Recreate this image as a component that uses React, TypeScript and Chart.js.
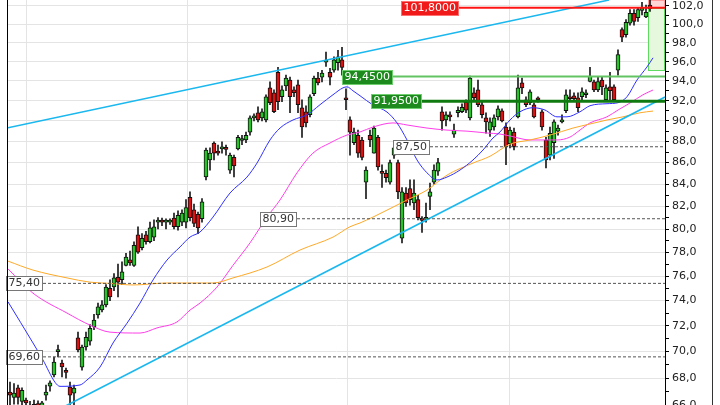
import React, { useEffect, useRef } from 'react';
import { Chart, registerables } from 'chart.js';

Chart.register(...registerables);

// ---------- DATA ----------
const openP = [
  66.98, 66.6, 67.3, 66.3, 66.4, 66.0, 65.9, 66.1, 65.9, 66.76,
  67.42, 68.24, 70.0, 69.13, 68.5, 67.35, 66.9, 71.05, 68.83, 70.35,
  70.8, 71.9, 72.85, 73.25, 73.65, 75.0, 75.1, 75.9, 75.7, 76.9,
  77.35, 76.9, 79.5, 78.4, 79.5, 78.9, 79.3, 80.6, 80.65, 80.6,
  80.6, 80.95, 80.2, 80.6, 80.6, 82.8, 81.7, 81.3, 80.9, 84.66,
  86.25, 87.86, 86.95, 87.3, 87.3, 85.3, 86.5, 87.3, 88.1, 88.15,
  88.9, 90.3, 90.8, 90.3, 90.1, 93.3, 92.8, 94.9, 92.4, 93.5,
  94.1, 93.1, 93.6, 91.3, 90.9, 90.6, 92.7, 94.3, 94.4, 95.95,
  94.9, 95.1, 95.9, 96.2, 92.2, 90.1, 87.9, 88.6, 88.15, 84.2,
  88.6, 86.9, 88.4, 85.05, 85.0, 84.2, 86.7, 86.0, 79.2, 83.2,
  83.6, 82.3, 82.6, 80.8, 80.85, 82.9, 84.2, 85.2, 90.9, 90.1,
  90.5, 88.7, 90.8, 90.9, 91.85, 90.3, 92.8, 93.1, 91.6, 90.3,
  89.1, 89.4, 90.4, 91.0, 89.4, 87.8, 88.9, 90.4, 93.8, 92.1,
  91.8, 91.6, 92.3, 90.9, 88.15, 86.7, 87.9, 89.0, 89.9, 91.0,
  92.4, 92.5, 92.3, 92.4, 92.6, 93.95, 93.9, 93.1, 94.1, 92.1,
  93.4, 93.4, 95.1, 99.4, 98.85, 100.1, 101.2, 100.7, 101.5, 100.8,
  102.1,
];
const highP = [
  67.72, 67.6, 67.5, 67.3, 66.55, 66.3, 66.4, 66.35, 66.3, 67.5,
  67.8, 69.58, 70.5, 69.36, 68.76, 67.72, 67.5, 71.5, 70.5, 71.5,
  72.1, 72.9, 73.8, 74.0, 75.3, 75.7, 76.2, 77.0, 77.2, 77.9,
  78.1, 78.9, 80.2, 79.6, 79.8, 80.6, 80.8, 81.0, 80.95, 80.9,
  80.9, 81.4, 81.6, 81.7, 82.6, 83.3, 82.2, 81.5, 82.7, 87.38,
  87.4, 87.96, 87.67, 87.96, 87.67, 86.9, 86.7, 88.6, 88.6, 88.9,
  90.5, 90.7, 91.4, 91.2, 92.6, 93.9, 93.1, 95.4, 93.5, 94.6,
  94.4, 93.4, 94.1, 92.1, 91.5, 92.6, 94.5, 94.9, 95.1, 97.0,
  95.3, 96.5, 97.2, 97.5, 93.2, 90.4, 89.3, 89.1, 88.4, 85.6,
  89.1, 89.5, 88.6, 85.8, 85.3, 86.25, 87.7, 86.25, 83.7, 83.7,
  84.4, 84.4, 83.0, 81.1, 82.3, 84.1, 85.8, 86.4, 91.4, 90.9,
  90.9, 89.7, 91.4, 91.7, 92.1, 94.5, 93.3, 94.1, 91.9, 90.8,
  90.3, 90.6, 91.5, 91.2, 89.8, 89.4, 89.3, 94.6, 94.3, 92.4,
  93.1, 91.8, 92.4, 91.1, 88.4, 89.4, 90.1, 89.6, 90.6, 93.1,
  93.1, 92.8, 92.8, 93.3, 93.1, 95.4, 94.1, 94.4, 94.4, 93.6,
  94.9, 93.6, 97.25, 99.6, 100.5, 101.6, 101.6, 101.8, 102.4, 102.1,
  102.67,
];
const lowP = [
  66.05, 66.1, 66.1, 66.0, 65.8, 65.5, 65.6, 65.7, 65.5, 66.4,
  67.05, 68.09, 69.6, 68.09, 68.0, 66.05, 66.05, 69.97, 68.6, 70.1,
  70.5, 71.7, 72.6, 73.1, 73.5, 74.0, 74.8, 74.3, 75.3, 76.85,
  76.9, 76.8, 77.9, 78.2, 78.7, 78.8, 79.0, 80.0, 80.3, 80.0,
  80.4, 80.0, 79.9, 80.3, 80.1, 80.7, 80.2, 79.6, 80.6, 84.39,
  85.3, 86.25, 86.7, 86.9, 86.7, 85.0, 84.66, 87.2, 87.7, 87.9,
  88.6, 90.0, 89.9, 90.0, 89.9, 91.6, 90.8, 91.1, 91.9, 93.0,
  90.8, 92.4, 90.8, 88.4, 89.4, 90.4, 92.5, 93.6, 93.9, 95.5,
  93.6, 94.9, 95.1, 94.6, 91.1, 86.7, 87.7, 86.5, 86.25, 82.7,
  87.5, 86.9, 85.3, 83.7, 84.2, 84.0, 86.4, 82.7, 78.8, 82.0,
  82.1, 81.7, 80.8, 79.7, 80.6, 81.7, 84.0, 84.8, 89.1, 89.5,
  90.0, 88.4, 90.4, 90.8, 90.8, 90.1, 92.0, 91.4, 90.3, 88.8,
  88.5, 89.1, 90.1, 89.9, 85.8, 87.4, 87.2, 90.3, 92.7, 91.4,
  91.6, 90.3, 91.85, 89.1, 85.5, 86.25, 86.4, 88.6, 89.8, 90.8,
  92.1, 91.9, 90.9, 92.1, 92.3, 93.9, 92.9, 92.9, 92.6, 91.9,
  92.1, 91.9, 94.6, 98.1, 98.6, 99.9, 99.9, 100.3, 101.0, 100.7,
  101.4,
];
const closeP = [
  66.76, 66.9, 66.6, 67.1, 66.2, 65.8, 66.1, 66.0, 66.2, 66.98,
  67.65, 69.21, 70.06, 68.84, 68.43, 66.76, 67.28, 70.12, 70.35, 71.1,
  71.8, 72.45, 73.5, 73.65, 75.1, 74.3, 75.85, 75.5, 76.35, 77.6,
  77.1, 78.6, 78.0, 79.2, 78.9, 80.1, 80.2, 80.65, 80.6, 80.65,
  80.7, 80.2, 81.2, 81.4, 81.9, 81.0, 80.5, 80.1, 82.4, 87.19,
  86.9, 86.9, 86.9, 87.38, 87.25, 86.7, 85.7, 88.4, 88.2, 88.6,
  90.3, 90.4, 90.1, 90.9, 92.4, 91.8, 90.9, 91.9, 93.1, 94.3,
  92.4, 92.8, 91.6, 89.4, 89.8, 92.4, 94.3, 93.8, 94.8, 96.0,
  94.4, 96.2, 96.5, 95.4, 92.1, 88.9, 88.9, 86.9, 86.5, 85.3,
  88.15, 89.3, 85.6, 85.0, 84.6, 86.0, 87.4, 83.3, 83.3, 82.3,
  82.6, 83.2, 81.0, 80.75, 80.95, 83.3, 85.3, 86.0, 90.0, 90.6,
  90.4, 89.1, 91.05, 91.35, 91.05, 94.3, 92.3, 91.6, 90.6, 89.9,
  89.9, 90.3, 91.2, 90.0, 87.5, 89.1, 87.5, 93.3, 93.3, 91.6,
  92.9, 90.4, 92.1, 89.4, 86.25, 88.8, 89.9, 89.3, 90.1, 92.6,
  92.2, 92.2, 91.3, 92.9, 92.8, 94.5, 93.1, 93.95, 93.4, 93.3,
  93.0, 92.1, 96.75, 98.6, 100.2, 101.2, 100.3, 101.6, 101.8, 101.3,
  101.7,
];

// moving averages read as [bar index, price]
const maBlue: [number, number][] = [
  [-0.5, 73.9], [5.75, 70.66], [8.25, 69.36], [11.25, 67.7], [12.5, 67.4], [17.5, 67.5],
  [19.25, 67.87], [22.5, 68.83], [25.75, 70.66], [29.25, 72.2], [32.5, 73.8], [35.75, 75.68],
  [39.25, 77.34], [42.5, 78.45], [45, 79.3], [47.5, 79.74], [50.75, 81.05], [55, 83.2],
  [59.25, 84.66], [61.75, 85.96], [65, 88.15], [67.5, 89.3], [70.75, 90.09], [74.25, 90.6],
  [77.5, 91.6], [80.75, 92.6], [83.25, 93.3], [84.25, 93.4], [85.75, 93.0], [87.5, 92.5],
  [90.75, 91.57], [94.25, 90.87], [96.75, 89.8], [99.25, 88.15], [101.75, 86.25], [104.25, 85.05],
  [106.75, 84.39], [109.25, 84.66], [112.5, 85.31], [115.75, 86.25], [118.25, 87.19], [120.75, 88.34],
  [122.5, 88.92], [125, 90.09], [127.5, 90.9], [130.75, 91.3], [133.75, 91.07], [136.75, 90.4],
  [139.25, 90.4], [142.5, 90.9], [145, 91.5], [149.25, 91.7], [152, 91.8], [154.25, 92.4],
  [156.75, 94.1], [159.25, 95.45], [160.75, 96.4],
];
const maMagenta: [number, number][] = [
  [-0.5, 76.6], [5.75, 74.6], [14.25, 73.0], [20, 72.05], [25, 71.5], [32.5, 71.43],
  [36.75, 71.83], [41.75, 72.3], [45, 73.24], [47.5, 73.8], [51.75, 75.1], [55.75, 76.9],
  [60, 78.8], [64.25, 81.05], [67.5, 82.57], [71.75, 85.05], [75.75, 86.9], [80, 87.86],
  [84.25, 88.62], [87.5, 88.92], [90.75, 89.4], [95.75, 89.8], [99.25, 89.6], [104.25, 89.3],
  [109.25, 89.1], [114.25, 89.0], [119.25, 88.82], [122.5, 88.72], [125, 88.53], [130, 88.15],
  [136.75, 88.15], [140, 88.43], [142.5, 89.11], [145, 89.8], [149.25, 90.4], [152, 91.07],
  [155, 91.77], [158.25, 92.6], [160.75, 93.08],
];
const maOrange: [number, number][] = [
  [-0.5, 77.25], [5.75, 76.5], [14.25, 75.85], [20, 75.5], [25, 75.4], [30.75, 75.27],
  [39.25, 75.43], [47.5, 75.43], [50.75, 75.43], [55.75, 75.85], [64.25, 76.76], [72.5, 78.19],
  [80.75, 79.3], [85, 80.2], [87.5, 80.53], [90.75, 81.05], [99.25, 82.57], [104.25, 83.47],
  [109.25, 84.84], [115.75, 85.96], [120, 86.6], [125, 87.75], [130, 88.15], [135, 88.62],
  [140.75, 89.3], [145, 89.7], [149.25, 90.09], [153.25, 90.4], [157.5, 90.8], [160.75, 90.97],
];
const trendUpper: [number, number][] = [[-0.5, 89.32], [149.75, 102.67]];
const trendLower: [number, number][] = [[10, 65.4], [163.75, 92.37]];

const levelValues = [101.8, 94.45, 91.95, 87.5, 80.9, 75.4, 69.6];
const levelLabels = ['101,8000', '94,4500', '91,9500', '87,50', '80,90', '75,40', '69,60'];
const targetRange = [95.0, 101.8];
const yTickValues = [
  66, 67, 68, 69, 70, 71, 72, 73, 74, 75, 76, 77, 78, 79, 80, 81, 82, 83, 84,
  85, 86, 87, 88, 89, 90, 91, 92, 93, 94, 95, 96, 97, 98, 99, 100, 101, 102,
];
const xGridIdx = [4, 44.25, 84.25, 124.75];

// ---------- STYLE / LAYOUT ----------
const X_MIN = -0.5;
const X_MAX = 163.75;
const Y_MIN = 64.27;
const Y_MAX = 102.668;
const BOX_FROM = 159.5;
const GREEN = '#27c427';
const RED = '#dd1111';
const FONT = '"DejaVu Sans", Verdana, sans-serif';

const levelStyle = [
  { from: 112.25, color: '#ff1414', width: 2, dash: [] as number[], box: '#f01a1a', border: '#ff7070', text: '#ffffff' },
  { from: 95.75, color: '#63c363', width: 2, dash: [] as number[], box: '#1d8a1d', border: '#6fcf6f', text: '#ffffff' },
  { from: 103, color: '#0f7a0f', width: 3, dash: [] as number[], box: '#1d8a1d', border: '#6fcf6f', text: '#ffffff' },
  { from: 105, color: '#555555', width: 1, dash: [3, 2], box: '#ffffff', border: '#777777', text: '#333333' },
  { from: 71.75, color: '#555555', width: 1, dash: [3, 2], box: '#ffffff', border: '#777777', text: '#333333' },
  { from: 8.25, color: '#555555', width: 1, dash: [3, 2], box: '#ffffff', border: '#777777', text: '#333333' },
  { from: 8.25, color: '#555555', width: 1, dash: [3, 2], box: '#ffffff', border: '#777777', text: '#333333' },
];

const overlayPlugin = {
  id: 'overlayPlugin',
  beforeDatasetsDraw(chart: any) {
    const { ctx, chartArea, scales } = chart;
    const xs = scales.x;
    const ys = scales.y;
    const xl = Math.round(xs.getPixelForValue(BOX_FROM));
    const xr = chartArea.right;
    const yTop = chartArea.top;
    const yRed = Math.round(ys.getPixelForValue(targetRange[1]));
    const yBot = Math.round(ys.getPixelForValue(targetRange[0]));
    ctx.save();
    ctx.fillStyle = '#ffd6d6';
    ctx.fillRect(xl, yTop, xr - xl, yRed - yTop);
    ctx.strokeStyle = '#ff9a9a';
    ctx.lineWidth = 1;
    ctx.strokeRect(xl + 0.5, yTop + 0.5, xr - xl - 1, yRed - yTop - 1);
    ctx.fillStyle = '#e6f9df';
    ctx.fillRect(xl, yRed, xr - xl, yBot - yRed);
    ctx.strokeStyle = '#5fdc5f';
    ctx.strokeRect(xl + 0.5, yRed + 0.5, xr - xl - 1, yBot - yRed - 1);
    ctx.restore();
  },
  afterDatasetsDraw(chart: any) {
    const { ctx, scales } = chart;
    const xs = scales.x;
    const ys = scales.y;
    ctx.save();
    ctx.font = '11px ' + FONT;
    ctx.textBaseline = 'middle';
    levelValues.forEach((v, k) => {
      const st = levelStyle[k];
      const yy = Math.round(ys.getPixelForValue(v));
      const right = Math.round(xs.getPixelForValue(st.from));
      const w = Math.ceil(ctx.measureText(levelLabels[k]).width) + 5;
      const h = 15;
      const left = right - w;
      const top = yy - 7;
      ctx.fillStyle = st.box;
      ctx.fillRect(left, top, w, h);
      ctx.strokeStyle = st.border;
      ctx.lineWidth = 1;
      ctx.strokeRect(left + 0.5, top + 0.5, w - 1, h - 1);
      ctx.fillStyle = st.text;
      ctx.fillText(levelLabels[k], left + 2.5, yy + 0.5);
    });
    ctx.restore();
  },
  afterDraw(chart: any) {
    const { ctx, chartArea } = chart;
    ctx.save();
    ctx.strokeStyle = '#000000';
    ctx.lineWidth = 1;
    ctx.beginPath();
    ctx.moveTo(chartArea.left - 0.5, 0);
    ctx.lineTo(chartArea.left - 0.5, chart.height);
    ctx.stroke();
    ctx.strokeStyle = '#333333';
    ctx.beginPath();
    ctx.moveTo(712.5, 0);
    ctx.lineTo(712.5, chart.height);
    ctx.stroke();
    ctx.restore();
  },
};

export default function App() {
  const ref = useRef<HTMLCanvasElement>(null);

  useEffect(() => {
    const canvas = ref.current;
    if (!canvas) return;
    const idx = openP.map((_, i) => i);
    const wickData = idx.map((i) => ({ x: i, y: [lowP[i], highP[i]] }));
    const bodyData = idx.map((i) => ({ x: i, y: [openP[i], closeP[i]] }));
    const bodyColors = idx.map((i) => (closeP[i] >= openP[i] ? GREEN : RED));
    const toXY = (arr: [number, number][]) => arr.map(([x, y]) => ({ x, y }));

    const lineDs = (data: any[], color: string, width: number, order: number, dash: number[] = []) => ({
      type: 'line' as const,
      data,
      borderColor: color,
      borderWidth: width,
      borderDash: dash,
      pointRadius: 0,
      fill: false,
      cubicInterpolationMode: 'monotone' as const,
      order,
    });

    const levelDatasets = levelValues.map((v, k) =>
      lineDs(
        [
          { x: levelStyle[k].from, y: v },
          { x: X_MAX, y: v },
        ],
        levelStyle[k].color,
        levelStyle[k].width,
        1,
        levelStyle[k].dash
      )
    );

    const chart = new Chart(canvas, {
      type: 'bar',
      data: {
        datasets: [
          {
            type: 'bar',
            data: wickData as any,
            backgroundColor: '#1a1a1a',
            borderWidth: 0,
            barThickness: 1,
            grouped: false,
            order: 20,
          } as any,
          {
            type: 'bar',
            data: bodyData as any,
            backgroundColor: bodyColors,
            borderColor: '#111111',
            borderWidth: 1,
            borderSkipped: false,
            barThickness: 4,
            minBarLength: 2,
            grouped: false,
            order: 19,
          } as any,
          lineDs(toXY(maOrange), '#ffa928', 1, 5),
          lineDs(toXY(maMagenta), '#ff3ee8', 1, 5),
          lineDs(toXY(maBlue), '#3030ff', 1, 4),
          lineDs(toXY(trendUpper), '#1ab8ee', 1.5, 3),
          lineDs(toXY(trendLower), '#1ab8ee', 1.5, 3),
          ...levelDatasets,
        ] as any,
      },
      options: {
        animation: false,
        responsive: false,
        maintainAspectRatio: false,
        devicePixelRatio: 1,
        events: [],
        layout: { padding: { left: 8, right: 8, top: 0, bottom: 0 } },
        plugins: {
          legend: { display: false },
          tooltip: { enabled: false },
          title: { display: false },
        },
        scales: {
          x: {
            type: 'linear',
            min: X_MIN,
            max: X_MAX,
            offset: false,
            afterBuildTicks: (s: any) => {
              s.ticks = xGridIdx.map((v) => ({ value: v }));
            },
            afterFit: (s: any) => {
              s.height = 0;
              s.paddingLeft = 0;
              s.paddingRight = 0;
            },
            grid: { color: '#e4e4e4', drawTicks: false, offset: false },
            border: { display: false },
            ticks: { display: false },
          },
          y: {
            type: 'logarithmic',
            position: 'right',
            min: Y_MIN,
            max: Y_MAX,
            beginAtZero: false,
            bounds: 'data',
            afterBuildTicks: (s: any) => {
              s.ticks = yTickValues.map((v) => ({ value: v }));
            },
            afterFit: (s: any) => {
              s.width = 47;
              s.paddingTop = 0;
              s.paddingBottom = 0;
            },
            grid: {
              color: (c: any) => (c.tick && c.tick.value % 2 === 0 ? '#e4e4e4' : 'rgba(0,0,0,0)'),
              tickColor: '#000000',
              tickLength: 4,
              drawTicks: true,
            },
            border: { display: true, color: '#000000', width: 1 },
            ticks: {
              autoSkip: false,
              padding: 3,
              color: '#222222',
              font: { family: FONT, size: 11 },
              callback: (v: any) => (Number(v) % 2 === 0 ? Number(v).toFixed(1).replace('.', ',') : ''),
            },
          },
        },
      } as any,
      plugins: [overlayPlugin],
    });
    return () => chart.destroy();
  }, []);

  return (
    <div
      style={{
        position: 'fixed',
        left: 0,
        top: 0,
        width: 720,
        height: 405,
        overflow: 'hidden',
        background: '#ffffff',
      }}
    >
      <canvas ref={ref} width={720} height={430} style={{ display: 'block', width: 720, height: 430 }} />
    </div>
  );
}
